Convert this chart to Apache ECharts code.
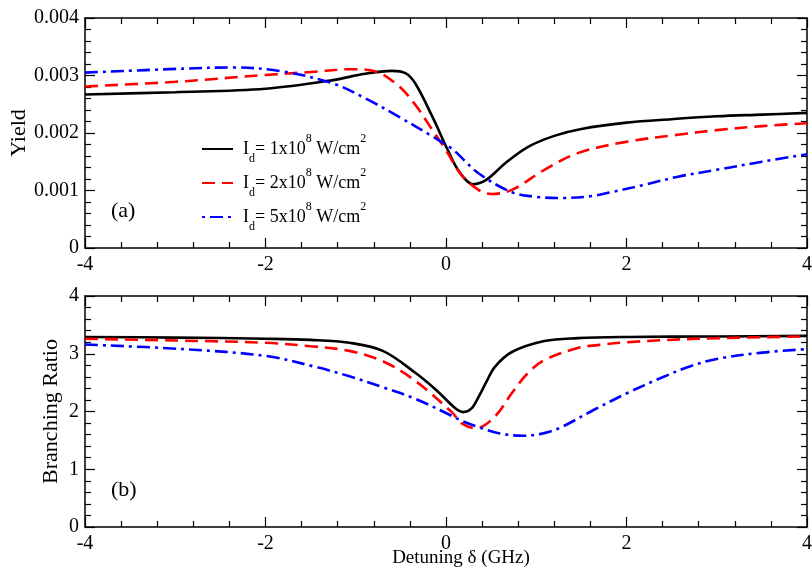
<!DOCTYPE html>
<html><head><meta charset="utf-8">
<script src="https://cdn.jsdelivr.net/npm/echarts@6/dist/echarts.min.js"></script>
<style>html,body{margin:0;padding:0;background:#fff}#c{width:812px;height:574px}</style>
</head><body><div id="c"></div>
<script>
// ---- Data ----
const seriesNames = ['1e8', '2e8', '5e8'];
const legendLabels = ['1', '2', '5'];
const xTicks = [-4, -2, 0, 2, 4];
const yieldTicks = [0, 0.001, 0.002, 0.003, 0.004];
const ratioTicks = [0, 1, 2, 3, 4];

// Panel (a): Yield (units of 1e-3)
const yieldX1 = [-4,-3,-2,-1.25,-0.9,-0.6,-0.45,-0.34,-0.15,0.03,0.15,0.3,0.45,0.66,0.91,1.2,1.5,2,2.5,3,3.5,4];
const yieldY1 = [2.67,2.71,2.77,2.92,3.03,3.08,3.04,2.86,2.28,1.67,1.32,1.11,1.19,1.48,1.76,1.95,2.07,2.18,2.24,2.29,2.32,2.35];
const yieldX2 = [-4,-3,-2,-1.5,-1.05,-0.78,-0.52,-0.34,-0.15,0,0.17,0.36,0.5,0.73,1.09,1.46,2.01,2.57,3,3.5,4];
const yieldY2 = [2.81,2.89,3.01,3.06,3.11,3.07,2.81,2.49,2.05,1.70,1.27,1.01,0.94,1.01,1.36,1.65,1.85,1.97,2.05,2.12,2.17];
const yieldX3 = [-4,-2.9,-2.36,-1.81,-1.25,-0.89,-0.52,-0.15,0.07,0.36,0.73,1.0,1.28,1.6,1.83,2.2,2.57,3,3.5,4];
const yieldY3 = [3.05,3.12,3.14,3.07,2.86,2.60,2.28,1.94,1.72,1.30,0.97,0.89,0.87,0.90,0.97,1.10,1.24,1.36,1.50,1.63];

// Panel (b): Branching ratio
const ratioX1 = [-4,-3,-2,-1.5,-1.07,-0.7,-0.34,-0.1,0.1,0.19,0.28,0.36,0.45,0.54,0.73,1.09,1.46,2,3,4];
const ratioY1 = [3.29,3.28,3.26,3.24,3.19,3.05,2.67,2.36,2.06,1.99,2.05,2.25,2.52,2.77,3.03,3.22,3.27,3.29,3.30,3.31];
const ratioX2 = [-4,-3,-2,-1.5,-1.07,-0.7,-0.34,0.07,0.17,0.33,0.54,0.73,0.91,1.09,1.46,1.68,2.01,2.79,4];
const ratioY2 = [3.26,3.23,3.19,3.13,3.05,2.87,2.53,1.98,1.80,1.71,1.91,2.32,2.67,2.89,3.10,3.15,3.20,3.26,3.30];
const ratioX3 = [-4,-2.91,-1.99,-1.44,-1.07,-0.7,-0.34,0.07,0.17,0.36,0.6,0.85,1.1,1.28,1.64,2.01,2.38,2.7,3,3.5,4];
const ratioY3 = [3.16,3.08,2.96,2.77,2.61,2.42,2.22,1.92,1.84,1.73,1.62,1.58,1.63,1.73,2.03,2.32,2.58,2.78,2.91,3.02,3.08];

// ---- Chart ----
const FONT = 'Liberation Serif';
const colors = ['#000000', '#ff0000', '#0000ff'];
const dashes = ['solid', [13, 7], [13, 5, 3, 5]];
const zip = (xs, ys, s) => xs.map((x, i) => [x, ys[i] * s]);

function xAx(grid, pos, labels) {
  return {
    type: 'value', gridIndex: grid, position: pos, min: xTicks[0], max: xTicks[xTicks.length - 1],
    interval: xTicks[1] - xTicks[0],
    axisLine: { show: true, onZero: false, lineStyle: { color: '#000', width: 1.5 } },
    axisTick: { show: true, inside: true, length: 10, lineStyle: { color: '#000', width: 1.2 } },
    minorTick: { show: true, splitNumber: 5, length: 6, lineStyle: { color: '#000', width: 1.2 } },
    splitLine: { show: false },
    axisLabel: { show: labels, color: '#000', fontFamily: FONT, fontSize: 20, margin: 7 }
  };
}
function yAx(grid, pos, ticks, labels, name, gap) {
  return {
    type: 'value', gridIndex: grid, position: pos, min: ticks[0], max: ticks[ticks.length - 1],
    interval: ticks[1] - ticks[0],
    name: labels ? name : '', nameLocation: 'middle', nameGap: gap || 50,
    nameMoveOverlap: false,
    nameTextStyle: { color: '#000', fontFamily: FONT, fontSize: 22 },
    axisLine: { show: true, onZero: false, lineStyle: { color: '#000', width: 1.5 } },
    axisTick: { show: true, inside: true, length: 10, lineStyle: { color: '#000', width: 1.2 } },
    minorTick: { show: true, splitNumber: 5, length: 6, lineStyle: { color: '#000', width: 1.2 } },
    splitLine: { show: false },
    axisLabel: { show: labels, color: '#000', fontFamily: FONT, fontSize: 20, margin: 6,
      formatter: v => String(+v.toFixed(4)) }
  };
}

function mkSeries(name, data, idx, xi, yi) {
  return {
    name: name, type: 'line', xAxisIndex: xi, yAxisIndex: yi, data: data,
    smooth: 0.35, showSymbol: false, symbol: 'none', animation: false,
    lineStyle: { color: colors[idx], width: 2.6, type: dashes[idx] },
    itemStyle: { color: colors[idx] }
  };
}

const chart = echarts.init(document.getElementById('c'), null, { renderer: 'canvas' });
chart.setOption({
  animation: false,
  backgroundColor: '#fff',
  grid: [
    { left: 85, right: 5, top: 18, height: 230, containLabel: false, outerBoundsMode: 'none' },
    { left: 85, right: 5, top: 296, height: 231, containLabel: false, outerBoundsMode: 'none' }
  ],
  xAxis: [
    xAx(0, 'bottom', true), xAx(1, 'bottom', true),
    xAx(0, 'top', false), xAx(1, 'top', false)
  ],
  yAxis: [
    yAx(0, 'left', yieldTicks, true, 'Yield', 55), yAx(1, 'left', ratioTicks, true, 'Branching Ratio', 23),
    yAx(0, 'right', yieldTicks, false, ''), yAx(1, 'right', ratioTicks, false, '')
  ],
  legend: {
    left: 201, top: 133, orient: 'vertical', itemWidth: 31, itemHeight: 14, itemGap: 2,
    padding: 0,
    itemStyle: { opacity: 0 },
    data: [
      { name: seriesNames[0] },
      { name: seriesNames[1] },
      { name: seriesNames[2], lineStyle: { dashOffset: 18 } }
    ],
    formatter: function (name) {
      const k = legendLabels[seriesNames.indexOf(name)];
      return '{n0|I}{sub|d}{n|= ' + k + 'x10}{sup|8}{n| W/cm}{sup|2}';
    },
    textStyle: {
      color: '#000', fontFamily: FONT, fontSize: 18,
      rich: {
        n0: { fontFamily: FONT, fontSize: 18, color: '#000', lineHeight: 24, padding: [0, 0, 0, 5] },
        n: { fontFamily: FONT, fontSize: 18, color: '#000', lineHeight: 24 },
        sub: { fontFamily: FONT, fontSize: 12, color: '#000', lineHeight: 12, verticalAlign: 'bottom', padding: [0, 0, -4, 0] },
        sup: { fontFamily: FONT, fontSize: 12, color: '#000', lineHeight: 12, verticalAlign: 'top', padding: [-4, 0, 0, 0] }
      }
    }
  },
  graphic: [
    { type: 'text', left: 111, top: 200, style: { text: '(a)', font: '22px "Liberation Serif"', fill: '#000' } },
    { type: 'text', left: 111, top: 479, style: { text: '(b)', font: '22px "Liberation Serif"', fill: '#000' } },
    { type: 'text', x: 461, y: 558, style: { text: 'Detuning δ (GHz)', font: '19px "Liberation Serif"', fill: '#000', align: 'center', verticalAlign: 'middle' } }
  ],
  series: [
    mkSeries(seriesNames[0], zip(yieldX1, yieldY1, 0.001), 0, 0, 0),
    mkSeries(seriesNames[1], zip(yieldX2, yieldY2, 0.001), 1, 0, 0),
    mkSeries(seriesNames[2], zip(yieldX3, yieldY3, 0.001), 2, 0, 0),
    mkSeries(seriesNames[0], zip(ratioX1, ratioY1, 1), 0, 1, 1),
    mkSeries(seriesNames[1], zip(ratioX2, ratioY2, 1), 1, 1, 1),
    mkSeries(seriesNames[2], zip(ratioX3, ratioY3, 1), 2, 1, 1)
  ]
});
</script></body></html>
